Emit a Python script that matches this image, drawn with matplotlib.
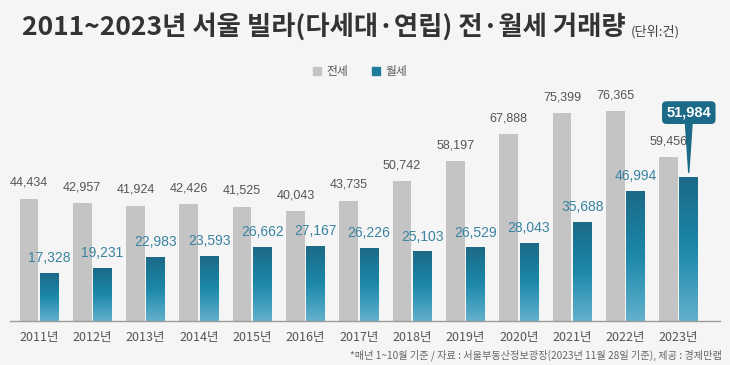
import matplotlib.pyplot as plt
import numpy as np
from matplotlib.colors import LinearSegmentedColormap

plt.rcParams['font.family'] = ['Noto Sans CJK KR', 'DejaVu Sans']

years = ['2011년', '2012년', '2013년', '2014년', '2015년', '2016년', '2017년',
         '2018년', '2019년', '2020년', '2021년', '2022년', '2023년']
jeonse = [44434, 42957, 41924, 42426, 41525, 40043, 43735,
          50742, 58197, 67888, 75399, 76365, 59456]
wolse = [17328, 19231, 22983, 23593, 26662, 27167, 26226,
         25103, 26529, 28043, 35688, 46994, 51984]

bg = '#f5f5f5'
gray = '#c4c4c4'
blue_dark = '#1b6a87'
cmap = LinearSegmentedColormap.from_list('wol', ['#62b0cc', '#1c88aa', '#1b6a87'])

fig = plt.figure(figsize=(7.3, 3.65), dpi=100, facecolor=bg)
ax = fig.add_axes([10 / 730, 44 / 365, 710 / 730, 234 / 365])
ax.set_facecolor(bg)

x = np.arange(len(years))
w = 0.35
off = 0.19

ax.bar(x - off, jeonse, w, color=gray, zorder=2)
bars = ax.bar(x + off, wolse, w, color='none', zorder=2)

# gradient fill for monthly rent bars
grad = np.linspace(0, 1, 100).reshape(-1, 1)
for b in bars:
    x0 = b.get_x()
    h = b.get_height()
    ax.imshow(grad, cmap=cmap, origin='lower', aspect='auto',
              extent=[x0, x0 + b.get_width(), 0, h], zorder=2)

num_font = ['Liberation Sans', 'DejaVu Sans']
for i in range(len(years)):
    ax.annotate(f'{jeonse[i]:,}', (x[i] - off, jeonse[i]), xytext=(0, 7),
                textcoords='offset points', ha='center', va='bottom',
                fontsize=9, color='#555555', family=num_font)
    if i < len(years) - 1:
        ax.annotate(f'{wolse[i]:,}', (x[i] + off, wolse[i]), xytext=(0, 6),
                    textcoords='offset points', ha='center', va='bottom',
                    fontsize=10, color='#3a83a0', family=num_font)

# callout for 2023
ax.annotate(f'{wolse[-1]:,}', (x[-1] + off, wolse[-1] + 2000), xytext=(0, 38),
            textcoords='offset points', ha='center', va='bottom',
            fontsize=10.5, color='white', fontweight='bold', family=num_font,
            bbox=dict(boxstyle='round,pad=0.3,rounding_size=0.3', fc=blue_dark, ec='none'),
            arrowprops=dict(arrowstyle='wedge,tail_width=0.45', color=blue_dark,
                            shrinkA=0, shrinkB=0))

ax.set_xlim(-0.545, -0.545 + 710 / 53.3)
ax.set_ylim(0, 85000)
ax.set_xticks(x)
ax.set_xticklabels(years, fontsize=9, color='#555555')
ax.tick_params(axis='x', length=0, pad=7)
ax.set_yticks([])
for s in ['top', 'right', 'left']:
    ax.spines[s].set_visible(False)
ax.spines['bottom'].set_color('#9a9a9a')
ax.spines['bottom'].set_linewidth(1)

fig.text(22 / 730, 1 - 27 / 365, '2011~2023년 서울 빌라(다세대·연립) 전·월세 거래량',
         fontsize=19, fontweight='bold', color='#333333', va='center', ha='left')
fig.text(631 / 730, 1 - 32 / 365, '(단위:건)', fontsize=9.5, color='#444444',
         va='center', ha='left')

# legend
fig.patches.append(plt.Rectangle((313 / 730, 1 - 75 / 365), 8 / 730, 8 / 365,
                                 transform=fig.transFigure, color=gray))
fig.text(326 / 730, 1 - 71 / 365, '전세', fontsize=8.5, color='#555555', va='center')
fig.patches.append(plt.Rectangle((372 / 730, 1 - 75 / 365), 8 / 730, 8 / 365,
                                 transform=fig.transFigure, color='#1d7b9c'))
fig.text(385 / 730, 1 - 71 / 365, '월세', fontsize=8.5, color='#555555', va='center')

fig.text(722 / 730, 1 - 355 / 365,
         '*매년 1~10월 기준 / 자료 : 서울부동산정보광장(2023년 11월 28일 기준), 제공 : 경제만랩',
         fontsize=7.3, color='#666666', ha='right', va='center')

fig.savefig('out.png', dpi=100, facecolor=bg)
